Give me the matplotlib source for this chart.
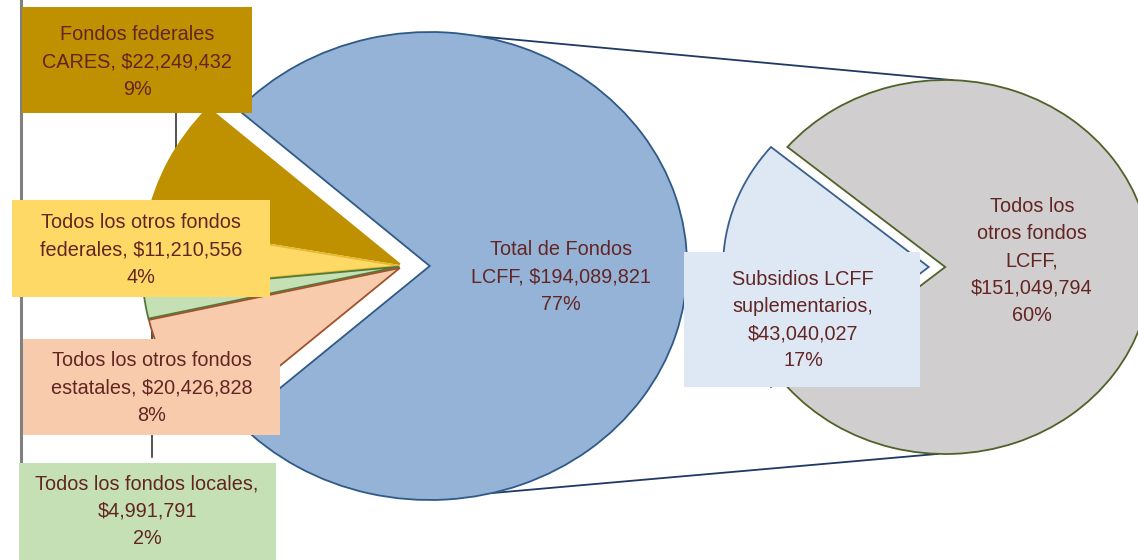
import matplotlib.pyplot as plt
import numpy as np
from matplotlib.patches import Rectangle

plt.rcParams['font.family'] = ['Liberation Sans', 'DejaVu Sans']

# datos
main_labels = ["Total de Fondos\nLCFF, $194,089,821\n77%",
               "Fondos federales\nCARES, $22,249,432\n9%",
               "Todos los otros fondos\nfederales, $11,210,556\n4%",
               "Todos los fondos locales,\n$4,991,791\n2%",
               "Todos los otros fondos\nestatales, $20,426,828\n8%"]
main_values = [194089821, 22249432, 11210556, 4991791, 20426828]
main_colors = ['#95B3D7', '#BF9000', '#FFD966', '#C5E0B4', '#F8CBAD']
main_edges = ['#2F5A88', '#BF9000', '#E8B830', '#4F7A3A', '#A0522D']

sub_labels = ["Todos los\notros fondos\nLCFF,\n$151,049,794\n60%",
              "Subsidios LCFF\nsuplementarios,\n$43,040,027\n17%"]
sub_values = [151049794, 43040027]
sub_colors = ['#D0CECE', '#DDE8F4']
sub_edges = ['#4F6228', '#3A5F8B']

W, H = 1138, 560
SX = 1.1  # el grafico original esta estirado en horizontal
TXT = '#632523'


def px(x, y):
    # coordenadas de pixel -> datos
    return x / SX, H - y


fig = plt.figure(figsize=(W / 100, H / 100), dpi=100)
ax = fig.add_axes([0, 0, 1, 1])

# pastel principal
c1 = px(404, 266)
r1 = 234
frac1 = main_values[0] / sum(main_values)
expl1 = [0.1, 0.018, 0.018, 0.018, 0.018]
wedges1, _ = ax.pie(main_values, colors=main_colors, center=c1, radius=r1,
                    startangle=-frac1 * 180, counterclock=True,
                    explode=[e * r1 for e in expl1],
                    wedgeprops=dict(linewidth=1.3), frame=True)
for w, ec in zip(wedges1, main_edges):
    w.set_edgecolor(ec)
    w.set_zorder(2)

# pastel secundario
c2 = px(938, 267)
r2 = 187
frac2 = sub_values[0] / sum(sub_values)
expl2 = [0.035, 0.045]
wedges2, _ = ax.pie(sub_values, colors=sub_colors, center=c2, radius=r2,
                    startangle=-frac2 * 180, counterclock=True,
                    explode=[e * r2 for e in expl2],
                    wedgeprops=dict(linewidth=1.3), frame=True)
for w, ec in zip(wedges2, sub_edges):
    w.set_edgecolor(ec)
    w.set_zorder(2)

# lineas de conexion
bc = wedges1[0].center
gc = wedges2[0].center
for a1, a2 in [(79, 88), (-76, -92)]:
    p1 = (bc[0] + r1 * np.cos(np.radians(a1)), bc[1] + r1 * np.sin(np.radians(a1)))
    p2 = (gc[0] + r2 * np.cos(np.radians(a2)), gc[1] + r2 * np.sin(np.radians(a2)))
    ax.plot([p1[0], p2[0]], [p1[1], p2[1]], color='#1F3864', lw=1.3, zorder=1)

# lineas sueltas del recorte
ax.plot(*zip(px(21, 0), px(21, 560)), color='#808080', lw=2.2, zorder=1)
ax.plot(*zip(px(176, 113), px(176, 160)), color='#222222', lw=1.1, zorder=1)
ax.plot(*zip(px(152, 303), px(152, 457)), color='#222222', lw=1.1, zorder=1)

# cajas de etiquetas (x0, y0, x1, y1, centro texto)
boxes = [
    (None, None, None, None, (561, 277), main_labels[0], None),
    (22, 7, 252, 113, (137, 62), main_labels[1], main_colors[1]),
    (12, 200, 270, 297, (141, 250), main_labels[2], main_colors[2]),
    (19, 463, 276, 560, (147, 511), main_labels[3], main_colors[3]),
    (23, 339, 280, 435, (152, 388), main_labels[4], main_colors[4]),
    (None, None, None, None, (1032, 261), sub_labels[0], None),
    (684, 252, 920, 387, (803, 320), sub_labels[1], sub_colors[1]),
]
for x0, y0, x1, y1, ctr, txt, col in boxes:
    if col is not None:
        xa, ya = px(x0, y1)
        xb, yb = px(x1, y0)
        ax.add_patch(Rectangle((xa, ya), xb - xa, yb - ya, facecolor=col,
                               edgecolor='none', zorder=3))
    tx, ty = px(*ctr)
    ax.text(tx, ty, txt, ha='center', va='center', color=TXT, fontsize=14.3,
            linespacing=1.55, zorder=4)

ax.set_aspect('auto')
ax.set_xlim(0, W / SX)
ax.set_ylim(0, H)
ax.axis('off')

fig.savefig('out.png', dpi=100, facecolor='white')
